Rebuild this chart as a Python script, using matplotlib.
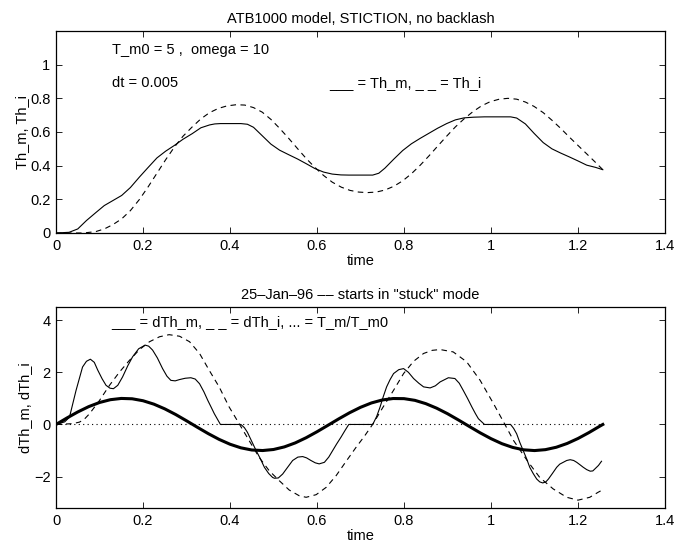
import matplotlib
matplotlib.use("Agg")
import matplotlib.pyplot as plt

plt.rcParams['font.family'] = ['Liberation Sans', 'DejaVu Sans']
plt.rcParams['axes.unicode_minus'] = True

# ---- Top panel data (angles) ----
t_thm = [0.0, 0.03, 0.05, 0.07, 0.091, 0.111, 0.131, 0.151, 0.171, 0.192, 0.212, 0.232,
         0.252, 0.272, 0.292, 0.313, 0.333, 0.353, 0.365, 0.378, 0.425, 0.44, 0.454, 0.474,
         0.494, 0.514, 0.535, 0.555, 0.575, 0.595, 0.615, 0.635, 0.655, 0.673, 0.728, 0.742,
         0.756, 0.777, 0.797, 0.817, 0.837, 0.857, 0.877, 0.898, 0.918, 0.938, 0.96, 0.985,
         1.045, 1.059, 1.079, 1.099, 1.12, 1.14, 1.16, 1.18, 1.2, 1.22, 1.24, 1.257]
th_m = [0.0, 0.004, 0.024, 0.074, 0.12, 0.163, 0.193, 0.223, 0.27, 0.333, 0.39, 0.446,
        0.486, 0.52, 0.557, 0.59, 0.625, 0.642, 0.648, 0.65, 0.65, 0.646, 0.628, 0.578,
        0.528, 0.492, 0.465, 0.44, 0.412, 0.383, 0.362, 0.35, 0.345, 0.344, 0.344, 0.355,
        0.385, 0.44, 0.49, 0.53, 0.562, 0.592, 0.622, 0.65, 0.672, 0.684, 0.688, 0.69,
        0.69, 0.683, 0.648, 0.592, 0.537, 0.5, 0.475, 0.452, 0.428, 0.403, 0.39, 0.376]

t_thi = [0.0, 0.06, 0.07, 0.091, 0.111, 0.131, 0.151, 0.171, 0.192, 0.212, 0.232, 0.252,
         0.272, 0.292, 0.313, 0.333, 0.353, 0.373, 0.393, 0.414, 0.434, 0.454, 0.474, 0.494,
         0.514, 0.535, 0.555, 0.575, 0.595, 0.615, 0.635, 0.656, 0.676, 0.696, 0.716, 0.736,
         0.756, 0.777, 0.797, 0.817, 0.837, 0.857, 0.877, 0.898, 0.918, 0.938, 0.958, 0.978,
         0.998, 1.019, 1.039, 1.059, 1.079, 1.099, 1.12, 1.14, 1.16, 1.18, 1.2, 1.22, 1.24, 1.257]
th_i = [0.0, 0.0, 0.002, 0.008, 0.024, 0.05, 0.084, 0.133, 0.2, 0.275, 0.355, 0.435,
        0.51, 0.575, 0.63, 0.678, 0.715, 0.74, 0.755, 0.762, 0.76, 0.745, 0.718, 0.675,
        0.622, 0.562, 0.502, 0.443, 0.39, 0.342, 0.302, 0.272, 0.253, 0.243, 0.24, 0.243,
        0.255, 0.278, 0.31, 0.352, 0.402, 0.457, 0.515, 0.575, 0.63, 0.678, 0.72, 0.755,
        0.78, 0.795, 0.8, 0.795, 0.778, 0.752, 0.715, 0.67, 0.622, 0.57, 0.52, 0.47, 0.42, 0.376]

# ---- Bottom panel data (velocities and torque) ----
t_dthm = [0.0, 0.02, 0.031, 0.046, 0.061, 0.07, 0.079, 0.088, 0.096, 0.106, 0.115, 0.124,
          0.132, 0.142, 0.153, 0.165, 0.176, 0.19, 0.205, 0.213, 0.222, 0.233, 0.245, 0.255,
          0.264, 0.274, 0.284, 0.297, 0.31, 0.32, 0.33, 0.34, 0.349, 0.357, 0.364, 0.378,
          0.425, 0.433, 0.44, 0.45, 0.46, 0.47, 0.479, 0.489, 0.498, 0.502, 0.511, 0.521,
          0.532, 0.544, 0.556, 0.567, 0.576, 0.586, 0.596, 0.605, 0.617, 0.627, 0.636, 0.645,
          0.655, 0.664, 0.673, 0.728, 0.737, 0.745, 0.752, 0.76, 0.768, 0.776, 0.788, 0.799,
          0.81, 0.822, 0.834, 0.845, 0.86, 0.872, 0.883, 0.902, 0.917, 0.927, 0.936, 0.946,
          0.956, 0.964, 0.971, 0.985, 1.045, 1.052, 1.059, 1.066, 1.074, 1.082, 1.089, 1.097,
          1.105, 1.112, 1.119, 1.126, 1.132, 1.141, 1.151, 1.158, 1.166, 1.174, 1.182, 1.19,
          1.197, 1.205, 1.212, 1.22, 1.228, 1.234, 1.239, 1.247, 1.254]
dth_m = [0.0, 0.1, 0.28, 1.3, 2.2, 2.42, 2.5, 2.38, 2.08, 1.75, 1.5, 1.39,
         1.37, 1.5, 1.82, 2.25, 2.59, 2.9, 3.04, 3.0, 2.85, 2.55, 2.14, 1.85,
         1.69, 1.67, 1.72, 1.77, 1.79, 1.74, 1.56, 1.25, 0.92, 0.65, 0.41, 0.0,
         0.0, -0.12, -0.3, -0.65, -1.0, -1.32, -1.64, -1.88, -2.03, -2.06, -2.05, -1.9,
         -1.65, -1.38, -1.25, -1.23, -1.28, -1.38, -1.47, -1.51, -1.45, -1.25, -1.0, -0.75,
         -0.49, -0.24, 0.0, 0.0, 0.3, 0.67, 1.05, 1.44, 1.72, 1.95, 2.1, 2.14,
         2.0, 1.76, 1.58, 1.44, 1.4, 1.48, 1.63, 1.79, 1.76, 1.58, 1.31, 1.0,
         0.67, 0.42, 0.22, 0.0, 0.0, -0.15, -0.36, -0.68, -1.0, -1.32, -1.64, -1.88,
         -2.09, -2.2, -2.24, -2.2, -2.09, -1.88, -1.64, -1.52, -1.45, -1.38, -1.35, -1.38,
         -1.45, -1.55, -1.64, -1.73, -1.79, -1.78, -1.7, -1.57, -1.41]

t_dthi = [0.0, 0.038, 0.054, 0.065, 0.077, 0.1, 0.123, 0.146, 0.169, 0.192, 0.215, 0.238,
          0.26, 0.284, 0.307, 0.33, 0.352, 0.375, 0.398, 0.421, 0.444, 0.467, 0.49, 0.513,
          0.536, 0.559, 0.575, 0.598, 0.621, 0.644, 0.667, 0.69, 0.709, 0.729, 0.752, 0.776,
          0.799, 0.822, 0.845, 0.865, 0.883, 0.913, 0.944, 0.975, 1.006, 1.029, 1.052, 1.083,
          1.112, 1.143, 1.174, 1.2, 1.227, 1.246, 1.257]
dth_i = [0.0, 0.03, 0.09, 0.2, 0.41, 0.92, 1.5, 2.01, 2.46, 2.87, 3.17, 3.36,
         3.44, 3.38, 3.17, 2.72, 2.08, 1.44, 0.67, 0.03, -0.62, -1.26, -1.77, -2.15,
         -2.51, -2.73, -2.79, -2.69, -2.41, -1.96, -1.41, -0.87, -0.45, 0.03, 0.67, 1.31,
         1.95, 2.42, 2.72, 2.84, 2.87, 2.78, 2.4, 1.69, 0.79, 0.09, -0.62, -1.38,
         -2.03, -2.47, -2.79, -2.9, -2.79, -2.6, -2.5]

t_tm = [0.0, 0.025, 0.05, 0.075, 0.1, 0.125, 0.15, 0.175, 0.2, 0.225, 0.25, 0.275,
        0.3, 0.325, 0.35, 0.375, 0.4, 0.425, 0.45, 0.475, 0.5, 0.525, 0.55, 0.575,
        0.6, 0.625, 0.65, 0.675, 0.7, 0.725, 0.75, 0.775, 0.8, 0.825, 0.85, 0.875,
        0.9, 0.925, 0.95, 0.975, 1.0, 1.025, 1.05, 1.075, 1.1, 1.125, 1.15, 1.175,
        1.2, 1.225, 1.25, 1.257]
tm_ratio = [0.0, 0.247, 0.479, 0.682, 0.841, 0.949, 0.997, 0.984, 0.909, 0.778, 0.598, 0.382,
            0.141, -0.108, -0.351, -0.572, -0.757, -0.895, -0.978, -0.999, -0.959, -0.859, -0.706, -0.508,
            -0.279, -0.033, 0.215, 0.45, 0.657, 0.824, 0.938, 0.994, 0.989, 0.924, 0.798, 0.624,
            0.412, 0.173, -0.075, -0.32, -0.544, -0.736, -0.88, -0.971, -1.0, -0.965, -0.873, -0.728,
            -0.537, -0.312, -0.066, 0.0]

t_zero = [0.0, 1.257]
zero_line = [0.0, 0.0]

xticks = [0, 0.2, 0.4, 0.6, 0.8, 1, 1.2, 1.4]
xticklabels = ['0', '0.2', '0.4', '0.6', '0.8', '1', '1.2', '1.4']
yticks_top = [0, 0.2, 0.4, 0.6, 0.8, 1]
yticklabels_top = ['0', '0.2', '0.4', '0.6', '0.8', '1']
yticks_bot = [-2, 0, 2, 4]
yticklabels_bot = ['\u22122', '0', '2', '4']

FS = 10.5
fig = plt.figure(figsize=(6.88, 5.45), dpi=100)
ax1 = fig.add_axes([0.0814, 0.5725, 0.8852, 0.3706])
ax2 = fig.add_axes([0.0814, 0.0679, 0.8852, 0.3688])

def style(ax):
    ax.tick_params(direction='in', length=4, width=0.6, top=True, right=True,
                   labelsize=FS, pad=4, colors='black')
    for s in ax.spines.values():
        s.set_linewidth(0.9)
    ax.set_xlim(0, 1.4)
    ax.set_xticks(xticks)
    ax.set_xticklabels(xticklabels)

dash = (0, (5, 4))

ax1.plot(t_thm, th_m, color='black', lw=0.8)
ax1.plot(t_thi, th_i, color='black', lw=0.8, linestyle=dash)
style(ax1)
ax1.set_ylim(0, 1.2)
ax1.set_yticks(yticks_top)
ax1.set_yticklabels(yticklabels_top)
ax1.set_title('ATB1000 model, STICTION, no backlash', fontsize=FS, pad=6)
ax1.set_xlabel('time', fontsize=FS, labelpad=1)
ax1.set_ylabel('Th_m, Th_i', fontsize=FS, labelpad=1)
ax1.text(0.128, 1.09, 'T_m0 = 5 ,  omega = 10', fontsize=FS, va='center', ha='left')
ax1.text(0.128, 0.89, 'dt = 0.005', fontsize=FS, va='center', ha='left')
ax1.text(0.628, 0.89, '___ = Th_m, _ _ = Th_i', fontsize=FS, va='center', ha='left')

ax2.plot(t_dthm, dth_m, color='black', lw=0.8)
ax2.plot(t_dthi, dth_i, color='black', lw=0.8, linestyle=dash)
ax2.plot(t_zero, zero_line, color='black', lw=0.8, linestyle=(0, (1, 3)))
ax2.plot(t_tm, tm_ratio, color='black', lw=2.2)
style(ax2)
ax2.set_ylim(-3.2, 4.5)
ax2.set_yticks(yticks_bot)
ax2.set_yticklabels(yticklabels_bot)
ax2.set_title('25\u2013Jan\u201396 \u2013\u2013 starts in "stuck" mode', fontsize=FS, pad=6)
ax2.set_xlabel('time', fontsize=FS, labelpad=1)
ax2.set_ylabel('dTh_m, dTh_i', fontsize=FS, labelpad=1)
ax2.text(0.127, 3.93, '___ = dTh_m, _ _ = dTh_i, ... = T_m/T_m0', fontsize=FS,
         va='center', ha='left')

fig.savefig('out.png', dpi=100)
